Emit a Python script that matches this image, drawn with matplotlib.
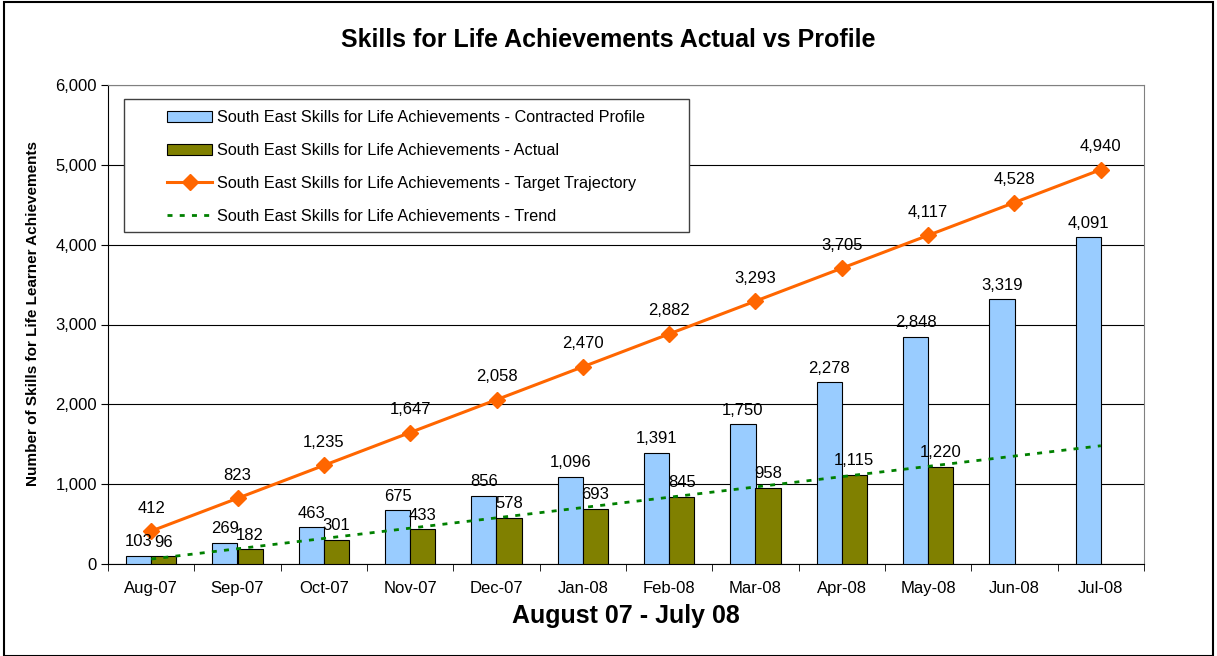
import matplotlib.pyplot as plt
from matplotlib.patches import Rectangle
import numpy as np

plt.rcParams['font.family'] = ['Liberation Sans', 'DejaVu Sans']

months = ['Aug-07', 'Sep-07', 'Oct-07', 'Nov-07', 'Dec-07', 'Jan-08',
          'Feb-08', 'Mar-08', 'Apr-08', 'May-08', 'Jun-08', 'Jul-08']
profile = [103, 269, 463, 675, 856, 1096, 1391, 1750, 2278, 2848, 3319, 4091]
actual = [96, 182, 301, 433, 578, 693, 845, 958, 1115, 1220]
target = [412, 823, 1235, 1647, 2058, 2470, 2882, 3293, 3705, 4117, 4528, 4940]
trend = [62, 191, 320, 449, 578, 707, 836, 965, 1094, 1223, 1352, 1481]

W, H = 1217, 656
fig = plt.figure(figsize=(W / 100, H / 100), dpi=100)
ax = fig.add_axes([108 / W, 1 - 564 / H, (1144 - 108) / W, (564 - 85) / H])

x = np.arange(len(months))
w = 0.29
b1 = ax.bar(x - w / 2, profile, w, color='#99CCFF', edgecolor='black', lw=0.8,
            label='South East Skills for Life Achievements - Contracted Profile', zorder=3)
xa = np.arange(len(actual))
b2 = ax.bar(xa + w / 2, actual, w, color='#808000', edgecolor='black', lw=0.8,
            label='South East Skills for Life Achievements - Actual', zorder=3)
l1, = ax.plot(x, target, color='#FF6600', lw=2.2, marker='D', ms=8, zorder=5,
              label='South East Skills for Life Achievements - Target Trajectory')
l2, = ax.plot(x, trend, color='#008000', lw=2, ls=(0, (1.8, 2.6)), zorder=4,
              label='South East Skills for Life Achievements - Trend')

# data labels
for xi, v in zip(x, profile):
    ax.annotate(f'{v:,}', (xi - w / 2, v), xytext=(0, 14), textcoords='offset pixels',
                ha='center', va='center', fontsize=12, zorder=6)
for xi, v in zip(xa, actual):
    ax.annotate(f'{v:,}', (xi + w / 2, v), xytext=(0, 14), textcoords='offset pixels',
                ha='center', va='center', fontsize=12, zorder=6)
for xi, v in zip(x, target):
    ax.annotate(f'{v:,}', (xi, v), xytext=(0, 23), textcoords='offset pixels',
                ha='center', va='center', fontsize=12, zorder=6)

ax.set_xlim(-0.5, len(months) - 0.5)
ax.set_ylim(0, 6000)
ax.set_yticks(range(0, 6001, 1000))
ax.set_yticklabels([f'{v:,}' for v in range(0, 6001, 1000)], fontsize=12)
ax.yaxis.grid(True, color='black', lw=0.8)
ax.set_axisbelow(True)

ax.set_xticks(x)
ax.set_xticklabels(months, fontsize=12)
ax.tick_params(axis='x', length=0, pad=12)
ax.set_xticks(np.arange(-0.5, len(months)), minor=True)
ax.tick_params(axis='x', which='minor', length=5, direction='out')
ax.tick_params(axis='y', length=5, direction='out', pad=3)

for s in ['top', 'right']:
    ax.spines[s].set_color('#808080')
ax.spines['left'].set_color('black')
ax.spines['bottom'].set_color('black')

ax.set_ylabel('Number of Skills for Life Learner Achievements', fontsize=11,
              fontweight='bold')
ax.yaxis.set_label_coords(-0.0656, 0.522)
ax.set_xlabel('August 07 - July 08', fontsize=18, fontweight='bold', labelpad=6)
fig.text(0.5, 1 - 40 / H, 'Skills for Life Achievements Actual vs Profile', ha='center',
         va='center', fontsize=18, fontweight='bold')

leg = fig.legend(handles=[b1, b2, l1, l2], loc='upper left',
                 bbox_to_anchor=(167 / W, 1 - 110 / H), bbox_transform=fig.transFigure,
                 fontsize=11.7, frameon=False, labelspacing=1.1, handlelength=2.77,
                 handletextpad=0.3, borderpad=0, borderaxespad=0)
leg.set_zorder(10)
fig.patches.append(Rectangle((124 / W, 1 - 232 / H), 565 / W, 133 / H,
                             transform=fig.transFigure, facecolor='white',
                             edgecolor='#404040', lw=1, zorder=9))

fig.patches.append(Rectangle((0.003, 0.0), 0.994, 0.997, transform=fig.transFigure,
                             fill=False, edgecolor='black', lw=1.5))

fig.savefig('out.png', dpi=100)
